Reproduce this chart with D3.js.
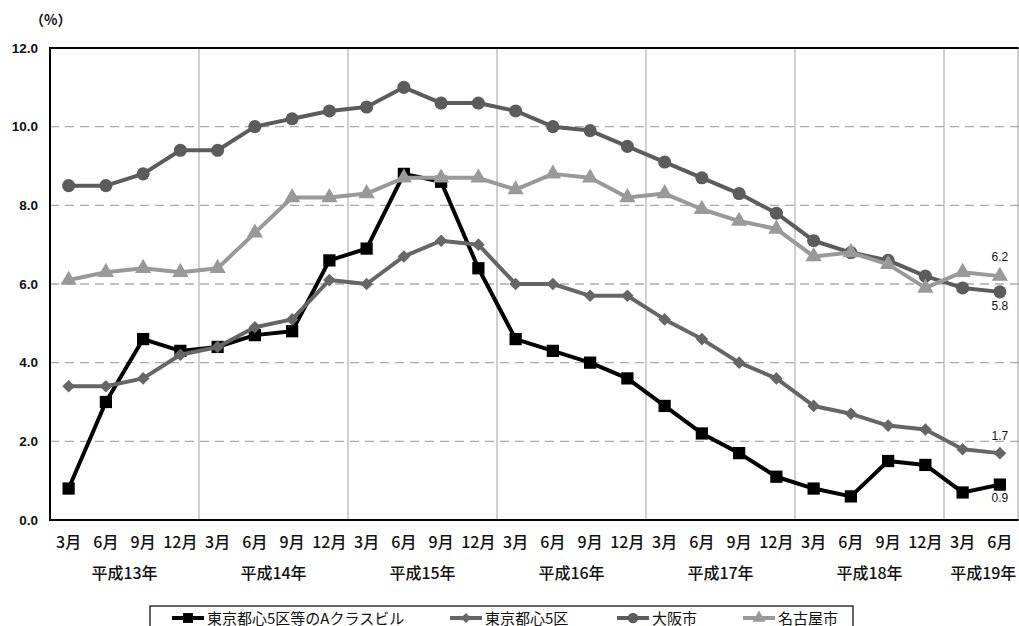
<!DOCTYPE html>
<html>
<head>
<meta charset="utf-8">
<script src="https://cdn.jsdelivr.net/npm/d3@7"></script>
<style>
  html, body { margin: 0; padding: 0; background: #fff; }
  svg { display: block; font-family: "Noto Sans CJK JP", "Noto Sans", sans-serif; }
</style>
</head>
<body>
<svg id="chart" width="1019" height="626"></svg>
<script>
// Vacancy rates (%) by quarter, H13 March – H19 June
const quarters = ["3月","6月","9月","12月"];
const years = ["平成13年","平成14年","平成15年","平成16年","平成17年","平成18年","平成19年"];
const periods = [];
years.forEach((y, yi) => quarters.forEach((q, qi) => {
  if (yi < 6 || qi < 2) periods.push({ year: y, quarter: q, key: y + q });
}));

const tokyoAClass = [0.8, 3.0, 4.6, 4.3, 4.4, 4.7, 4.8, 6.6, 6.9, 8.8, 8.6, 6.4, 4.6, 4.3, 4.0, 3.6, 2.9, 2.2, 1.7, 1.1, 0.8, 0.6, 1.5, 1.4, 0.7, 0.9];
const tokyo5Wards = [3.4, 3.4, 3.6, 4.2, 4.4, 4.9, 5.1, 6.1, 6.0, 6.7, 7.1, 7.0, 6.0, 6.0, 5.7, 5.7, 5.1, 4.6, 4.0, 3.6, 2.9, 2.7, 2.4, 2.3, 1.8, 1.7];
const osaka = [8.5, 8.5, 8.8, 9.4, 9.4, 10.0, 10.2, 10.4, 10.5, 11.0, 10.6, 10.6, 10.4, 10.0, 9.9, 9.5, 9.1, 8.7, 8.3, 7.8, 7.1, 6.8, 6.6, 6.2, 5.9, 5.8];
const nagoya = [6.1, 6.3, 6.4, 6.3, 6.4, 7.3, 8.2, 8.2, 8.3, 8.7, 8.7, 8.7, 8.4, 8.8, 8.7, 8.2, 8.3, 7.9, 7.6, 7.4, 6.7, 6.8, 6.5, 5.9, 6.3, 6.2];
const yTicks = [0, 2, 4, 6, 8, 10, 12];

// square diamond (rotated square)
const symbolRhombus = {
  draw(ctx, size) {
    const r = Math.sqrt(size / 2);
    ctx.moveTo(0, -r); ctx.lineTo(r, 0); ctx.lineTo(0, r); ctx.lineTo(-r, 0); ctx.closePath();
  }
};

const series = [
  { name: "東京都心5区等のAクラスビル", values: tokyoAClass, color: "#000000", symbol: d3.symbolSquare, size: 150, labelDy: 17 },
  { name: "東京都心5区", values: tokyo5Wards, color: "#666666", symbol: symbolRhombus, size: 80, labelDy: -13 },
  { name: "大阪市", values: osaka, color: "#5c5c5c", symbol: d3.symbolCircle, size: 135, labelDy: 18 },
  { name: "名古屋市", values: nagoya, color: "#999999", symbol: d3.symbolTriangle, size: 115, labelDy: -15 }
];

const svg = d3.select("#chart");
const margin = { left: 50, top: 48, right: 1018.5, bottom: 520 };

const x = d3.scaleBand().domain(periods.map(p => p.key)).range([margin.left, margin.right]);
const y = d3.scaleLinear().domain([0, 12]).range([margin.bottom, margin.top]);
const cx = k => x(k) + x.bandwidth() / 2;

// horizontal dashed gridlines
svg.append("g").selectAll("line").data(yTicks.filter(t => t > 0 && t < 12)).join("line")
  .attr("x1", margin.left).attr("x2", margin.right)
  .attr("y1", d => y(d)).attr("y2", d => y(d))
  .attr("stroke", "#aaaaaa").attr("stroke-width", 1.3).attr("stroke-dasharray", "9,6");

// vertical year separators
const yearStarts = periods.filter((p, i) => i > 0 && p.quarter === "3月");
svg.append("g").selectAll("line").data(yearStarts).join("line")
  .attr("x1", d => x(d.key)).attr("x2", d => x(d.key))
  .attr("y1", margin.top).attr("y2", margin.bottom)
  .attr("stroke", "#a0a0a0").attr("stroke-width", 1);
svg.append("line")
  .attr("x1", margin.right - 0.5).attr("x2", margin.right - 0.5)
  .attr("y1", margin.top).attr("y2", margin.bottom)
  .attr("stroke", "#a0a0a0").attr("stroke-width", 1);

// frame: top, left, bottom
svg.append("path")
  .attr("d", `M${margin.right},${margin.top}H${margin.left}V${margin.bottom}H${margin.right}`)
  .attr("fill", "none").attr("stroke", "#000").attr("stroke-width", 2);

// y axis
const yAxis = d3.axisLeft(y).tickValues(yTicks).tickFormat(d3.format(".1f")).tickSize(0).tickPadding(12);
const gy = svg.append("g").attr("transform", `translate(${margin.left},0)`).call(yAxis);
gy.select(".domain").remove();
gy.selectAll("text").attr("font-size", 13.5).attr("fill", "#111").attr("font-family", "Liberation Sans, Arial, sans-serif").attr("font-weight", "bold");

svg.append("text").attr("x", 30).attr("y", 25).attr("font-size", 14).attr("fill", "#111")
  .attr("font-weight", "bold").text("（%）");

// x axis: quarter labels
const xAxis = d3.axisBottom(x).tickFormat(k => periods.find(p => p.key === k).quarter).tickSize(0).tickPadding(17);
const gx = svg.append("g").attr("transform", `translate(0,${margin.bottom})`).call(xAxis);
gx.select(".domain").remove();
gx.selectAll("text").attr("font-size", 16).attr("fill", "#111").attr("font-weight", 500)
  .attr("font-family", "Noto Sans CJK JP, sans-serif");

// year labels
const yearGroups = d3.groups(periods, p => p.year);
svg.append("g").selectAll("text").data(yearGroups).join("text")
  .attr("x", d => {
    const ks = d[1].map(p => p.key);
    const mid = d[1].length === 4 ? (cx(ks[1]) + cx(ks[2])) / 2 : (cx(ks[0]) + cx(ks[1])) / 2;
    return d[1].length === 4 ? mid : mid + 2;
  })
  .attr("y", 579).attr("text-anchor", "middle").attr("font-size", 16).attr("font-weight", 500).attr("fill", "#111")
  .text(d => d[0]);

// lines and markers
const line = d3.line().x((v, i) => cx(periods[i].key)).y(v => y(v));
series.forEach(s => {
  const g = svg.append("g");
  g.append("path").datum(s.values).attr("d", line)
    .attr("fill", "none").attr("stroke", s.color).attr("stroke-width", 4).attr("stroke-linejoin", "round");
  g.selectAll("path.m").data(s.values).join("path").attr("class", "m")
    .attr("transform", (v, i) => `translate(${cx(periods[i].key)},${y(v)})`)
    .attr("d", d3.symbol().type(s.symbol).size(s.size))
    .attr("fill", s.color);
  const last = s.values.length - 1;
  g.append("text")
    .attr("x", cx(periods[last].key)).attr("y", y(s.values[last]) + s.labelDy)
    .attr("text-anchor", "middle").attr("font-size", 12).attr("fill", "#111")
    .attr("font-family", "Liberation Sans, Arial, sans-serif")
    .text(d3.format(".1f")(s.values[last]));
});

// legend
const legend = svg.append("g");
legend.append("rect").attr("x", 150).attr("y", 606).attr("width", 703).attr("height", 40)
  .attr("fill", "#fff").attr("stroke", "#000").attr("stroke-width", 1.2);
const legendX = [172, 450, 617, 743];
series.forEach((s, i) => {
  const lg = legend.append("g").attr("transform", `translate(${legendX[i]},618)`);
  lg.append("line").attr("x1", 0).attr("x2", 32).attr("stroke", s.color).attr("stroke-width", 4);
  lg.append("path").attr("transform", "translate(16,0)")
    .attr("d", d3.symbol().type(s.symbol).size(s.size * 0.65)).attr("fill", s.color);
  lg.append("text").attr("x", 35).attr("y", 5.5).attr("font-size", 15).attr("fill", "#111").text(s.name);
});
</script>
</body>
</html>
